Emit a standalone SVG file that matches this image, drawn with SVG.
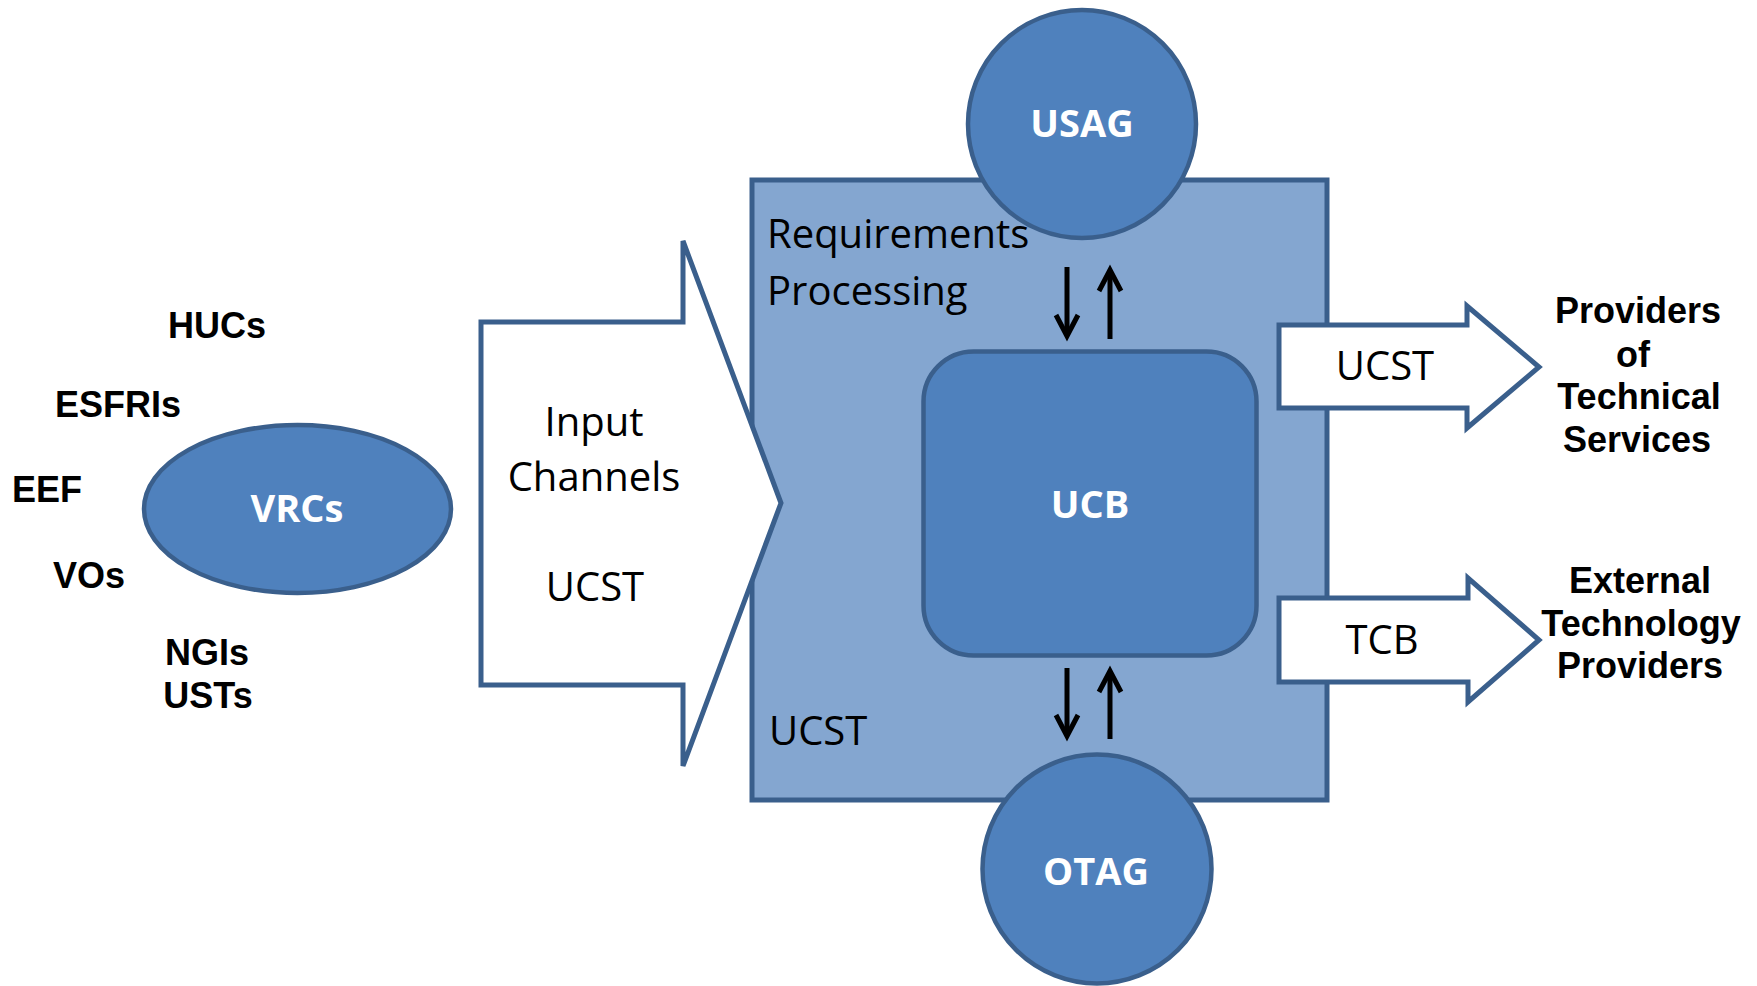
<svg xmlns="http://www.w3.org/2000/svg" width="1757" height="986" viewBox="0 0 1757 986">
<style>
.bg{fill:#ffffff}
.panel{fill:#84A6D0;stroke:#3A5F8C;stroke-width:5}
.node{fill:#4F81BD;stroke:#3A5F8C;stroke-width:4.5}
.blk{fill:#ffffff;stroke:#3A5F8C;stroke-width:5;stroke-linejoin:miter}
.wl{font-family:"Open Sans","Liberation Sans",sans-serif;font-weight:bold;font-size:38px;fill:#ffffff;text-anchor:middle}
.rl{font-family:"Open Sans","Liberation Sans",sans-serif;font-size:40px;fill:#000000}
.bl{font-family:"Liberation Sans",Arial,sans-serif;font-weight:bold;font-size:36px;fill:#000000}
.mid{text-anchor:middle}
.conn{stroke:#000000;stroke-width:5;fill:none}
</style>
<defs>
<marker id="ah" markerUnits="userSpaceOnUse" viewBox="0 0 30 30" markerWidth="30" markerHeight="30" refX="24" refY="15" orient="auto">
<path d="M3,4 L24,15 L3,26" fill="none" stroke="#000000" stroke-width="5" stroke-linejoin="miter" stroke-miterlimit="10"/>
</marker>
</defs>
<rect class="bg" x="0" y="0" width="1757" height="986"/>

<g id="stakeholders">
<text class="bl mid" x="217" y="338">HUCs</text>
<text class="bl" x="55" y="417">ESFRIs</text>
<text class="bl" x="12" y="502">EEF</text>
<text class="bl" x="53" y="588">VOs</text>
<text class="bl mid" x="207" y="665">NGIs</text>
<text class="bl mid" x="208" y="708">USTs</text>
</g>

<g id="vrcs">
<ellipse class="node" cx="297.5" cy="509" rx="153.5" ry="84"/>
<text class="wl" x="297" y="522">VRCs</text>
</g>

<g id="requirements-processing">
<rect class="panel" x="752" y="180" width="575" height="620"/>
</g>

<g id="input-channels">
<path class="blk" d="M481,322 H683 V241 L781,503 L683,766 V685 H481 Z"/>
<text class="rl mid" x="594" y="436">Input</text>
<text class="rl mid" x="594" y="491">Channels</text>
<text class="rl mid" x="595" y="601">UCST</text>
</g>

<g id="usag">
<circle class="node" cx="1082" cy="124" r="114"/>
<text class="wl" x="1082" y="137">USAG</text>
</g>

<g id="otag">
<circle class="node" cx="1097" cy="869" r="114.5"/>
<text class="wl" x="1096" y="885">OTAG</text>
</g>

<g id="panel-labels">
<text class="rl" x="767" y="248">Requirements</text>
<text class="rl" x="767" y="305">Processing</text>
<text class="rl" x="769" y="745">UCST</text>
</g>

<g id="ucb">
<rect class="node" x="923.5" y="351.5" width="333" height="304" rx="50" ry="50" stroke-width="5"/>
<text class="wl" x="1090" y="518">UCB</text>
</g>

<g id="ucst-out">
<path class="blk" d="M1279,325 H1467 V306 L1539,367 L1467,428 V408 H1279 Z"/>
<text class="rl mid" x="1385" y="380">UCST</text>
</g>

<g id="tcb-out">
<path class="blk" d="M1279,598 H1468 V578 L1539,640 L1468,702 V682 H1279 Z"/>
<text class="rl mid" x="1382" y="654">TCB</text>
</g>

<g id="providers-technical">
<text class="bl mid" x="1638" y="323">Providers</text>
<text class="bl mid" x="1633" y="367">of</text>
<text class="bl mid" x="1639" y="409">Technical</text>
<text class="bl mid" x="1637" y="452">Services</text>
</g>

<g id="external-technology">
<text class="bl mid" x="1640" y="593">External</text>
<text class="bl mid" x="1641" y="636">Technology</text>
<text class="bl mid" x="1640" y="678">Providers</text>
</g>

<g id="connectors">
<line class="conn" x1="1067" y1="267" x2="1067" y2="336" marker-end="url(#ah)"/>
<line class="conn" x1="1110" y1="339" x2="1110" y2="270" marker-end="url(#ah)"/>
<line class="conn" x1="1067" y1="668" x2="1067" y2="736" marker-end="url(#ah)"/>
<line class="conn" x1="1110" y1="739" x2="1110" y2="671" marker-end="url(#ah)"/>
</g>
</svg>
